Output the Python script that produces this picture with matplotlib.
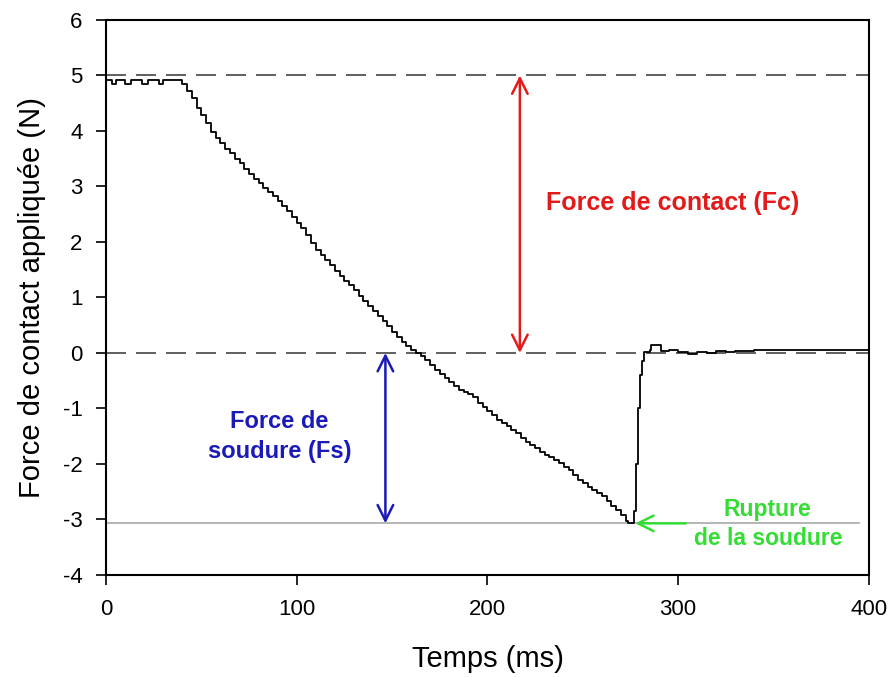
import matplotlib
matplotlib.use("Agg")
import matplotlib.pyplot as plt

# force signal (ms, N), drawn as steps
temps = [0, 3, 5, 10, 13, 19, 22, 28, 30, 38,
         40, 42.5, 45, 47.5, 50, 52.5, 55, 57.5, 60, 62.5, 65, 67.5, 70, 72.5,
         75, 77.5, 80, 82.5, 85, 87.5, 90, 92.5, 95, 97.5, 100, 102.5, 105, 107.5,
         110, 112.5, 115, 117.5, 120, 122.5, 125, 127.5, 130, 132.5, 135, 137.5,
         140, 142.5, 145, 147.5, 150, 152.5, 155, 157.5, 160, 162.5, 165, 167.5,
         170, 172.5, 175, 177.5, 180, 182.5, 185, 187.5, 190, 192.5, 195, 197.5,
         200, 202.5, 205, 207.5, 210, 212.5, 215, 217.5, 220, 222.5, 225, 227.5,
         230, 232.5, 235, 237.5, 240, 242.5, 245, 247.5, 250, 252.5, 255, 257.5,
         260, 262.5, 265, 267.5, 270, 272.5, 273.5, 277,
         278, 279, 280, 281, 282, 285, 286, 290, 291, 295, 300, 305, 310, 315,
         320, 325, 330, 335, 340, 400]
force = [4.92, 4.84, 4.92, 4.84, 4.92, 4.84, 4.92, 4.84, 4.92, 4.92,
         4.85, 4.72, 4.6, 4.42, 4.28, 4.15, 3.98, 3.88, 3.78, 3.68, 3.6, 3.5, 3.42, 3.32,
         3.22, 3.13, 3.06, 2.98, 2.9, 2.82, 2.74, 2.64, 2.55, 2.45, 2.35, 2.25, 2.12, 1.98,
         1.85, 1.77, 1.68, 1.58, 1.48, 1.39, 1.3, 1.22, 1.13, 1.03, 0.93, 0.84,
         0.76, 0.67, 0.58, 0.48, 0.38, 0.28, 0.2, 0.12, 0.05, 0.0, -0.06, -0.12,
         -0.22, -0.3, -0.37, -0.45, -0.52, -0.6, -0.67, -0.7, -0.74, -0.8, -0.9, -0.97,
         -1.05, -1.12, -1.2, -1.26, -1.32, -1.38, -1.45, -1.53, -1.6, -1.66, -1.72, -1.78,
         -1.83, -1.87, -1.93, -1.99, -2.05, -2.1, -2.2, -2.28, -2.35, -2.41, -2.46, -2.52,
         -2.58, -2.66, -2.75, -2.83, -2.92, -3.02, -3.06, -2.85,
         -2.0, -1.0, -0.4, -0.15, 0.02, 0.06, 0.14, 0.14, 0.03, 0.05, 0.02, -0.02, 0.02, 0.0,
         0.03, 0.02, 0.04, 0.03, 0.05, 0.06]

fc_level = 5.0
zero_level = 0.0
fs_level = -3.07

x_ticks = [0, 100, 200, 300, 400]
y_ticks = [-4, -3, -2, -1, 0, 1, 2, 3, 4, 5, 6]

plt.rcParams['font.family'] = ['Liberation Sans', 'DejaVu Sans']
plt.rcParams['axes.unicode_minus'] = False

fig = plt.figure(figsize=(8.93, 6.77), dpi=100)
ax = fig.add_axes([0.1187, 0.1507, 0.8543, 0.8198])

ax.axhline(fc_level, color='#444444', lw=1.2, dashes=(12, 6))
ax.axhline(zero_level, color='#444444', lw=1.2, dashes=(12, 6))
ax.plot([0, 395], [fs_level, fs_level], color='#b0b0b0', lw=1.3)

ax.plot(temps, force, color='black', lw=1.3, drawstyle='steps-post')

# arrows
ax.annotate('', xy=(217, fc_level), xytext=(217, zero_level),
            arrowprops=dict(arrowstyle='<->', color='#e31a1a', lw=1.8,
                            mutation_scale=28, shrinkA=0, shrinkB=0))
ax.text(297, 2.7, 'Force de contact (Fc)', color='#e31a1a', fontsize=18,
        fontweight='bold', ha='center', va='center')

ax.annotate('', xy=(146.5, zero_level), xytext=(146.5, fs_level),
            arrowprops=dict(arrowstyle='<->', color='#1a1ab8', lw=1.8,
                            mutation_scale=28, shrinkA=0, shrinkB=0))
ax.text(91, -1.5, 'Force de\nsoudure (Fs)', color='#1a1ab8', fontsize=17,
        fontweight='bold', ha='center', va='center', linespacing=1.4)

ax.annotate('', xy=(277.5, fs_level), xytext=(304, fs_level),
            arrowprops=dict(arrowstyle='->', color='#33dd33', lw=1.8,
                            mutation_scale=28, shrinkA=0, shrinkB=0))
ax.text(347, -3.08, 'Rupture\nde la soudure', color='#33dd33', fontsize=16.5,
        fontweight='bold', ha='center', va='center', linespacing=1.3)

ax.set_xlim(0, 400)
ax.set_ylim(-4, 6)
ax.set_xticks(x_ticks)
ax.set_yticks(y_ticks)
ax.tick_params(direction='out', length=7, width=1.2, labelsize=16, pad=10)
for s in ax.spines.values():
    s.set_linewidth(1.5)
ax.set_xlabel('Temps (ms)', fontsize=21, labelpad=18)
ax.set_ylabel('Force de contact appliquée (N)', fontsize=21, labelpad=12)

fig.savefig('out.png', dpi=100)
